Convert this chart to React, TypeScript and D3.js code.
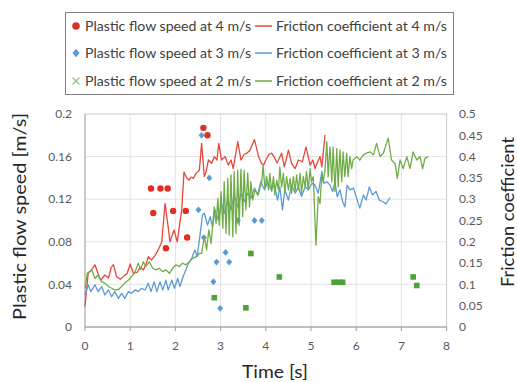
import React from 'react';
import * as d3 from 'd3';

const W = 517;
const H = 382;
const plot = { left: 85, right: 446.6, top: 114, bottom: 327 };

const timeTicks = [0, 1, 2, 3, 4, 5, 6, 7, 8];
const speedTicks = [0, 0.04, 0.08, 0.12, 0.16, 0.2];
const frictionTicks = [0, 0.05, 0.1, 0.15, 0.2, 0.25, 0.3, 0.35, 0.4, 0.45, 0.5];

// plastic flow speed points [time s, speed m/s]
const flow4 = [
  [1.46, 0.130], [1.67, 0.130], [1.83, 0.130], [1.51, 0.107], [1.95, 0.109],
  [2.23, 0.109], [2.26, 0.084], [1.79, 0.074], [2.62, 0.187], [2.71, 0.180],
];
const flow3 = [
  [2.58, 0.180], [2.75, 0.140], [2.51, 0.110], [2.63, 0.084], [3.38, 0.100],
  [3.75, 0.100], [3.91, 0.100], [3.11, 0.070], [2.91, 0.061], [3.19, 0.061],
  [2.84, 0.0425], [2.99, 0.0175],
];
const flow2 = [
  [3.67, 0.069], [4.30, 0.047], [2.86, 0.0275], [3.56, 0.018], [5.51, 0.042],
  [5.61, 0.042], [5.70, 0.042], [7.26, 0.047], [7.34, 0.039],
];

// friction coefficient traces [time s, coefficient]
const friction4 = [
  [0, 0.048], [0.07, 0.126], [0.15, 0.135], [0.22, 0.146], [0.29, 0.125], [0.35, 0.110],
  [0.44, 0.122], [0.52, 0.115], [0.58, 0.140], [0.63, 0.146], [0.70, 0.118], [0.78, 0.112],
  [0.86, 0.120], [0.93, 0.125], [1.0, 0.148], [1.07, 0.126], [1.15, 0.128], [1.22, 0.140],
  [1.29, 0.134], [1.36, 0.150], [1.40, 0.165], [1.47, 0.157], [1.55, 0.168], [1.62, 0.181],
  [1.70, 0.200], [1.77, 0.290], [1.84, 0.235], [1.88, 0.200], [1.97, 0.228], [2.04, 0.200],
  [2.14, 0.275], [2.19, 0.364], [2.25, 0.350], [2.30, 0.345], [2.35, 0.352], [2.40, 0.349],
  [2.45, 0.360], [2.53, 0.368], [2.58, 0.431], [2.64, 0.353], [2.68, 0.365], [2.73, 0.392],
  [2.80, 0.384], [2.86, 0.400], [2.92, 0.392], [2.96, 0.431], [3.02, 0.392], [3.10, 0.400],
  [3.17, 0.380], [3.23, 0.392], [3.28, 0.372], [3.38, 0.435], [3.45, 0.392], [3.52, 0.405],
  [3.58, 0.408], [3.65, 0.415], [3.75, 0.440], [3.84, 0.400], [3.90, 0.385], [3.95, 0.380],
  [4.00, 0.392], [4.07, 0.405], [4.13, 0.408], [4.20, 0.396], [4.25, 0.385], [4.35, 0.408],
  [4.41, 0.376], [4.50, 0.415], [4.57, 0.384], [4.65, 0.372], [4.72, 0.392], [4.81, 0.388],
  [4.89, 0.423], [4.98, 0.380], [5.04, 0.392], [5.09, 0.372], [5.13, 0.384], [5.20, 0.400],
  [5.24, 0.376], [5.31, 0.451],
];
const friction3 = [
  [0, 0.075], [0.07, 0.099], [0.13, 0.083], [0.22, 0.099], [0.29, 0.083], [0.37, 0.095],
  [0.44, 0.075], [0.52, 0.087], [0.59, 0.071], [0.66, 0.083], [0.74, 0.067], [0.81, 0.079],
  [0.88, 0.067], [0.96, 0.083], [1.03, 0.079], [1.11, 0.087], [1.18, 0.083], [1.25, 0.091],
  [1.33, 0.087], [1.40, 0.103], [1.46, 0.083], [1.53, 0.106], [1.59, 0.083], [1.66, 0.106],
  [1.72, 0.087], [1.79, 0.110], [1.84, 0.087], [1.92, 0.110], [1.98, 0.091], [2.05, 0.114],
  [2.10, 0.095], [2.17, 0.118], [2.23, 0.134], [2.29, 0.150], [2.36, 0.161], [2.43, 0.181],
  [2.48, 0.165], [2.54, 0.212], [2.60, 0.263], [2.64, 0.267], [2.71, 0.239], [2.77, 0.259],
  [2.82, 0.235], [2.88, 0.275], [2.95, 0.251], [3.02, 0.290], [3.08, 0.267], [3.16, 0.302],
  [3.23, 0.275], [3.30, 0.310], [3.38, 0.282], [3.45, 0.314], [3.52, 0.294], [3.60, 0.314],
  [3.67, 0.302], [3.75, 0.326], [3.82, 0.310], [3.89, 0.341], [3.97, 0.322], [4.04, 0.341],
  [4.12, 0.322], [4.19, 0.333], [4.26, 0.298], [4.31, 0.329], [4.37, 0.275], [4.42, 0.322],
  [4.50, 0.298], [4.57, 0.333], [4.65, 0.314], [4.72, 0.329], [4.79, 0.306], [4.87, 0.329],
  [4.94, 0.322], [5.02, 0.337], [5.09, 0.333], [5.16, 0.314], [5.24, 0.365], [5.29, 0.337],
  [5.35, 0.341], [5.42, 0.333], [5.48, 0.318], [5.53, 0.341], [5.58, 0.306], [5.64, 0.322],
  [5.70, 0.294], [5.75, 0.282], [5.80, 0.333], [5.86, 0.322], [5.94, 0.326], [6.01, 0.302],
  [6.08, 0.279], [6.16, 0.310], [6.22, 0.298], [6.29, 0.329], [6.36, 0.310], [6.44, 0.318],
  [6.51, 0.298], [6.59, 0.294], [6.66, 0.289], [6.75, 0.304],
];
const friction2 = [
  [0, 0.090], [0.05, 0.126], [0.15, 0.134], [0.22, 0.114], [0.29, 0.122], [0.37, 0.106],
  [0.44, 0.103], [0.52, 0.095], [0.59, 0.091], [0.66, 0.087], [0.74, 0.088], [0.81, 0.095],
  [0.88, 0.103], [0.96, 0.110], [1.03, 0.118], [1.11, 0.130], [1.18, 0.150], [1.23, 0.134],
  [1.29, 0.153], [1.35, 0.142], [1.42, 0.153], [1.50, 0.138], [1.57, 0.134], [1.64, 0.138],
  [1.72, 0.130], [1.79, 0.134], [1.87, 0.126], [1.94, 0.138], [2.01, 0.146], [2.09, 0.142],
  [2.16, 0.150], [2.23, 0.146], [2.31, 0.153], [2.38, 0.161], [2.46, 0.165], [2.53, 0.173],
  [2.58, 0.173], [2.64, 0.212], [2.69, 0.181], [2.74, 0.228], [2.79, 0.196], [2.86, 0.282],
  [2.90, 0.243], [2.94, 0.302], [2.97, 0.239], [3.01, 0.318], [3.05, 0.232], [3.08, 0.341],
  [3.12, 0.220], [3.16, 0.349], [3.19, 0.216], [3.23, 0.357], [3.27, 0.212], [3.30, 0.365],
  [3.34, 0.220], [3.38, 0.368], [3.41, 0.239], [3.45, 0.370], [3.49, 0.259], [3.52, 0.368],
  [3.56, 0.275], [3.60, 0.361], [3.64, 0.282], [3.67, 0.341], [3.71, 0.298], [3.76, 0.322],
  [3.83, 0.310], [3.91, 0.341], [3.94, 0.380], [3.98, 0.326], [4.02, 0.353], [4.06, 0.322],
  [4.09, 0.361], [4.13, 0.318], [4.17, 0.353], [4.20, 0.310], [4.24, 0.345], [4.28, 0.322],
  [4.31, 0.376], [4.35, 0.329], [4.39, 0.361], [4.42, 0.314], [4.46, 0.353], [4.50, 0.322],
  [4.54, 0.349], [4.57, 0.314], [4.61, 0.353], [4.65, 0.318], [4.68, 0.357], [4.72, 0.322],
  [4.76, 0.361], [4.79, 0.314], [4.83, 0.353], [4.87, 0.329], [4.90, 0.365], [4.94, 0.322],
  [4.98, 0.372], [5.01, 0.341], [5.05, 0.353], [5.11, 0.192], [5.16, 0.306], [5.20, 0.290],
  [5.24, 0.361], [5.27, 0.340], [5.31, 0.368], [5.35, 0.435], [5.38, 0.353], [5.42, 0.423],
  [5.46, 0.341], [5.49, 0.423], [5.53, 0.318], [5.57, 0.419], [5.60, 0.329], [5.64, 0.415],
  [5.68, 0.341], [5.71, 0.411], [5.75, 0.353], [5.79, 0.408], [5.82, 0.353], [5.86, 0.400],
  [5.90, 0.372], [5.93, 0.392], [6.01, 0.400], [6.08, 0.392], [6.16, 0.404], [6.23, 0.408],
  [6.31, 0.411], [6.38, 0.404], [6.45, 0.431], [6.53, 0.400], [6.60, 0.408], [6.67, 0.431],
  [6.71, 0.443], [6.78, 0.392], [6.86, 0.384], [6.91, 0.349], [6.97, 0.392], [7.04, 0.372],
  [7.12, 0.400], [7.19, 0.372], [7.26, 0.411], [7.34, 0.392], [7.41, 0.400], [7.47, 0.372],
  [7.52, 0.396], [7.59, 0.400],
];

const legendLabels = [
  ['Plastic flow speed at 4 m/s', 'Friction coefficient at 4 m/s'],
  ['Plastic flow speed at 3 m/s', 'Friction coefficient at 3 m/s'],
  ['Plastic flow speed at 2 m/s', 'Friction coefficient at 2 m/s'],
];

const RED = '#e8473b';
const RED_DOT = '#de3124';
const BLUE = '#5b9bd5';
const GREEN = '#70ad47';
const FONT = 'Lato, "Open Sans", sans-serif';

export default function App() {
  const x = d3.scaleLinear().domain([0, 8]).range([plot.left, plot.right]);
  const yL = d3.scaleLinear().domain([0, 0.2]).range([plot.bottom, plot.top]);
  const yR = d3.scaleLinear().domain([0, 0.5]).range([plot.bottom, plot.top]);
  const line = d3.line<number[]>().x(d => x(d[0])).y(d => yR(d[1]));

  const lineColors = [RED, BLUE, GREEN];
  const rows = [26, 53, 81];

  return (
    <svg width={W} height={H} style={{ position: 'absolute', left: 0, top: 0, background: '#fff' }}
      fontFamily={FONT}>
      {/* grid */}
      {timeTicks.slice(1, -1).map(t => (
        <line key={'gx' + t} x1={x(t)} x2={x(t)} y1={plot.top} y2={plot.bottom} stroke="#e3e3e3" />
      ))}
      {speedTicks.slice(1, -1).map(v => (
        <line key={'gy' + v} x1={plot.left} x2={plot.right} y1={yL(v)} y2={yL(v)} stroke="#e3e3e3" />
      ))}
      <rect x={plot.left} y={plot.top} width={plot.right - plot.left} height={plot.bottom - plot.top}
        fill="none" stroke="#c8c8c8" />
      <line x1={plot.left} x2={plot.right} y1={plot.bottom} y2={plot.bottom} stroke="#9a9a9a" />
      <line x1={plot.left} x2={plot.left} y1={plot.top} y2={plot.bottom} stroke="#b0b0b0" />
      {timeTicks.map(t => (
        <line key={'tx' + t} x1={x(t)} x2={x(t)} y1={plot.bottom} y2={plot.bottom + 4} stroke="#9a9a9a" />
      ))}

      {/* markers */}
      {flow4.map((d, i) => (
        <circle key={'r' + i} cx={x(d[0])} cy={yL(d[1])} r={3.2} fill={RED_DOT} />
      ))}
      {flow3.map((d, i) => {
        const cx = x(d[0]);
        const cy = yL(d[1]);
        return <path key={'b' + i} d={`M${cx},${cy - 3.4}L${cx + 3},${cy}L${cx},${cy + 3.4}L${cx - 3},${cy}Z`} fill={BLUE} />;
      })}
      {flow2.map((d, i) => (
        <rect key={'g' + i} x={x(d[0]) - 2.8} y={yL(d[1]) - 2.8} width={5.6} height={5.6} fill="#4ea23a" />
      ))}

      {/* friction lines */}
      {[friction4, friction3, friction2].map((s, i) => (
        <path key={'l' + i} d={line(s) || ''} fill="none" stroke={lineColors[i]} strokeWidth={1.3}
          strokeLinejoin="round" />
      ))}

      {/* axes labels */}
      {speedTicks.map(v => (
        <text key={'ly' + v} x={72} y={yL(v)} dy="0.35em" textAnchor="end" fontSize={12} fill="#595959">{String(v)}</text>
      ))}
      {frictionTicks.map(v => (
        <text key={'ry' + v} x={459} y={yR(v)} dy="0.35em" textAnchor="start" fontSize={12} fill="#595959">{String(v)}</text>
      ))}
      {timeTicks.map(t => (
        <text key={'lx' + t} x={x(t)} y={346} dy="0.35em" textAnchor="middle" fontSize={12} fill="#595959">{String(t)}</text>
      ))}
      <text x={275} y={378} textAnchor="middle" fontSize={17} fill="#262626" textLength={66}
        lengthAdjust="spacingAndGlyphs">Time [s]</text>
      <text transform="translate(26,216.5) rotate(-90)" textAnchor="middle" fontSize={17} fill="#262626"
        textLength={207} lengthAdjust="spacingAndGlyphs">Plastic flow speed [m/s]</text>
      <text transform="translate(514,212) rotate(-90)" textAnchor="middle" fontSize={17} fill="#262626"
        textLength={150} lengthAdjust="spacingAndGlyphs">Friction coefficient</text>

      {/* legend */}
      <rect x={65.5} y={12.5} width={388} height={82} fill="#fff" stroke="#7f7f7f" />
      <circle cx={76} cy={rows[0]} r={3.8} fill={RED_DOT} />
      <path d={`M76,${rows[1] - 4.2}L79.6,${rows[1]}L76,${rows[1] + 4.2}L72.4,${rows[1]}Z`} fill={BLUE} />
      <path d={`M72.5,${rows[2] - 3.5}L79.5,${rows[2] + 3.5}M79.5,${rows[2] - 3.5}L72.5,${rows[2] + 3.5}`}
        stroke="#93c47d" strokeWidth={1.2} />
      {legendLabels.map((pair, i) => (
        <g key={'lg' + i}>
          <text x={85} y={rows[i]} dy="0.35em" fontSize={14} fill="#404040" textLength={166}
            lengthAdjust="spacingAndGlyphs">{pair[0]}</text>
          <line x1={255} x2={272} y1={rows[i]} y2={rows[i]} stroke={lineColors[i]} strokeWidth={1.5} />
          <text x={276} y={rows[i]} dy="0.35em" fontSize={14} fill="#404040" textLength={171}
            lengthAdjust="spacingAndGlyphs">{pair[1]}</text>
        </g>
      ))}
    </svg>
  );
}
